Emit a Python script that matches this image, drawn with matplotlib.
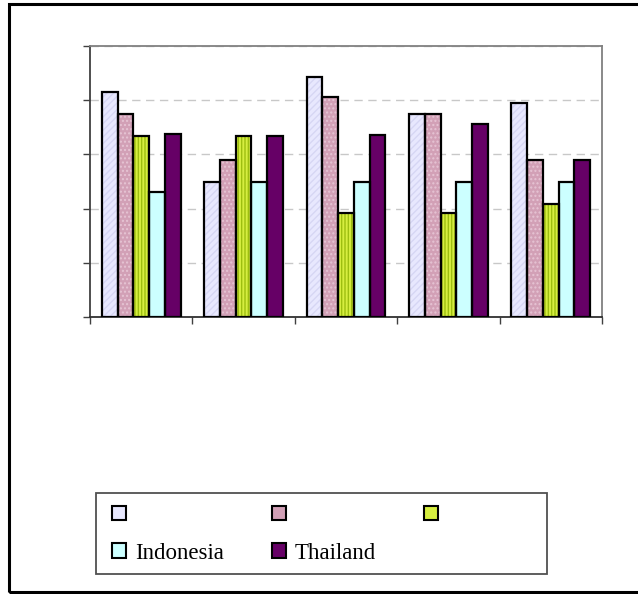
import matplotlib
matplotlib.use("Agg")
import matplotlib.pyplot as plt
from matplotlib.patches import Rectangle, Patch
import numpy as np

# values (no axis labels in the original)
groups = ["", "", "", "", ""]
series_names = ["", "", "", "Indonesia", "Thailand"]
s1 = [4.16, 2.50, 4.42, 3.75, 3.94]
s2 = [3.75, 2.90, 4.05, 3.75, 2.90]
s3 = [3.34, 3.34, 1.91, 1.91, 2.09]
indonesia = [2.31, 2.50, 2.50, 2.50, 2.50]
thailand = [3.38, 3.34, 3.35, 3.57, 2.90]
all_series = [s1, s2, s3, indonesia, thailand]

fills = ["#E8E8FE", "#D2A0B6", "#D6EE40", "#CCFFFF", "#660066"]
hatch_cols = ["#D6D6F4", "#E6C4D4", "#9DBE10", None, None]
hatches = ["/////", "....", "|||||", None, None]

plt.rcParams["font.family"] = ["Liberation Serif", "DejaVu Serif"]

fig = plt.figure(figsize=(6.38, 5.94), dpi=100)
ax = fig.add_axes([90/638, 1-317/594, 512/638, 271/594])

x = np.arange(len(groups))
w = 0.154
for i, vals in enumerate(all_series):
    pos = x + (i - 2) * w
    # fill + texture first, then black outline on top
    if hatches[i]:
        ax.bar(pos, vals, w, color=fills[i], edgecolor=hatch_cols[i],
               hatch=hatches[i], linewidth=0, zorder=2)
    else:
        ax.bar(pos, vals, w, color=fills[i], linewidth=0, zorder=2)
    ax.bar(pos, vals, w, fill=False, edgecolor="black", linewidth=1.6, zorder=3)

ax.set_xlim(-0.5, 4.5)
ax.set_ylim(0, 5)
ax.set_xticks(np.arange(-0.5, 5, 1))
ax.set_yticks(np.arange(0, 6, 1))
ax.set_xticklabels([])
ax.set_yticklabels([])
ax.tick_params(axis="both", direction="out", length=5, width=1, color="#404040")
ax.yaxis.grid(True, color="#C8C8C8", linestyle=(0, (6, 4)), linewidth=1)
ax.set_axisbelow(True)
for side in ["top", "right"]:
    ax.spines[side].set_color("#808080")
    ax.spines[side].set_linewidth(1.3)
ax.spines["left"].set_color("#404040")
ax.spines["bottom"].set_color("#303030")
ax.spines["left"].set_linewidth(1.3)
ax.spines["bottom"].set_linewidth(1.3)

# legend, filled row by row: reorder for column-major layout
handles = []
for i in range(5):
    handles.append(Patch(facecolor=fills[i], edgecolor="black", linewidth=1.5))
order = [0, 3, 1, 4, 2]
leg = fig.legend([handles[k] for k in order], [series_names[k] for k in order],
                 ncol=3, loc="upper left", bbox_to_anchor=(112/638, 1-505/594),
                 frameon=False, fontsize=16.5, handlelength=0.6, handleheight=0.6,
                 handletextpad=0.4, columnspacing=2.1, labelspacing=0.73,
                 borderpad=0, borderaxespad=0)

fig.patches.append(Rectangle((96/638, 1-574/594), 451/638, 81/594,
                             transform=fig.transFigure, fill=False,
                             edgecolor="#505050", linewidth=1.3))
fig.patches.append(Rectangle((9/638, 1-592/594), 640/638, 588/594,
                             transform=fig.transFigure, fill=False,
                             edgecolor="black", linewidth=2.2))

fig.savefig("out.png", dpi=100)
